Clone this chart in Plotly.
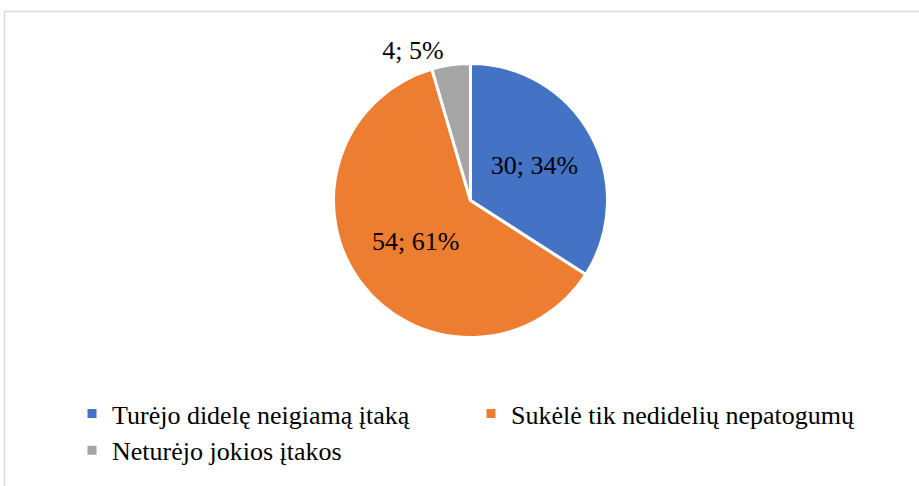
import plotly.graph_objects as go

labels = ["Turėjo didelę neigiamą įtaką", "Sukėlė tik nedidelių nepatogumų", "Neturėjo jokios įtakos"]
values = [30, 54, 4]
colors = ["#4472C4", "#ED7D31", "#A5A5A5"]
text_positions = ["inside", "inside", "outside"]

W, H = 919, 486
cx, cy, r = 470.5, 200.5, 137

fig = go.Figure(go.Pie(
    labels=labels,
    values=values,
    marker=dict(colors=colors, line=dict(color="white", width=3)),
    sort=False,
    direction="clockwise",
    rotation=0,
    texttemplate="%{value}; %{percent:.0%}",
    textposition=text_positions,
    insidetextorientation="horizontal",
    textfont=dict(family="Liberation Serif", size=26, color="black"),
    domain=dict(x=[(cx - r) / W, (cx + r) / W], y=[1 - (cy + r) / H, 1 - (cy - r) / H]),
    automargin=False,
    hoverinfo="label+value+percent",
))

fig.update_layout(
    width=W, height=H,
    margin=dict(l=0, r=0, t=0, b=0),
    paper_bgcolor="white",
    plot_bgcolor="white",
    font=dict(family="Liberation Serif", size=26, color="black"),
    showlegend=True,
    legend=dict(
        orientation="h",
        x=72 / W, xanchor="left",
        y=1 - 390 / H, yanchor="top",
        entrywidth=354,
        entrywidthmode="pixels",
        itemwidth=30,
        font=dict(family="Liberation Serif", size=26, color="black"),
        tracegroupgap=0,
    ),
    shapes=[dict(
        type="rect", xref="paper", yref="paper",
        x0=4.5 / W, x1=1.2, y0=-0.2, y1=1 - 11.5 / H,
        line=dict(color="#D9D9D9", width=1.5),
        fillcolor="rgba(0,0,0,0)",
        layer="below",
    )],
)

fig.write_html(
    "out.html",
    config={"displayModeBar": False},
    post_script="document.body.style.margin='0';document.body.style.overflow='hidden';",
)
